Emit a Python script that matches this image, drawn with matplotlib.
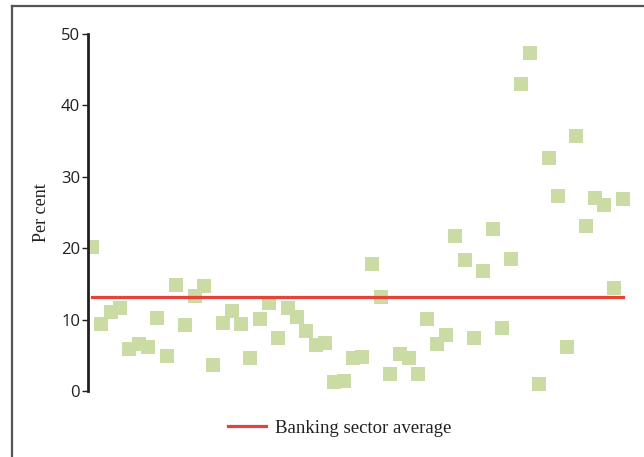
import matplotlib
matplotlib.use("Agg")
import matplotlib.pyplot as plt
from matplotlib.lines import Line2D

values = [20.2, 9.4, 11.1, 11.6, 5.9, 6.6, 6.2, 10.2, 4.9, 14.9,
          9.2, 13.3, 14.7, 3.6, 9.5, 11.2, 9.4, 4.6, 10.1, 12.3,
          7.4, 11.6, 10.4, 8.4, 6.4, 6.7, 1.3, 1.4, 4.6, 4.7,
          17.8, 13.2, 2.4, 5.2, 4.6, 2.4, 10.1, 6.6, 7.8, 21.7,
          18.3, 7.4, 16.8, 22.7, 8.8, 18.5, 43.0, 47.3, 1.0, 32.6,
          27.3, 6.2, 35.7, 23.1, 27.0, 26.0, 14.4, 26.9]
sector_average = 13.1
yticks = [0, 10, 20, 30, 40, 50]
legend_label = "Banking sector average"
ylabel = "Per cent"

W, H = 644, 457
fig = plt.figure(figsize=(W / 100, H / 100), dpi=100)
ax = fig.add_axes([87.7 / W, 1 - 391 / H, (630 - 87.7) / W, (391 - 34) / H])

x = list(range(len(values)))
ax.plot(x, values, linestyle="none", marker="s", markersize=9.6,
        markerfacecolor="#cbdba4", markeredgewidth=0, zorder=2)
ax.plot([x[0], x[-1] + 0.05], [sector_average, sector_average],
        color="#e8413a", linewidth=2.3, zorder=3, label=legend_label)

ax.set_ylim(0, 50)
ax.set_xlim(-0.48, len(values) - 1 + 0.75)
ax.set_yticks(yticks)
ax.set_xticks([])
for s in ["top", "right", "bottom"]:
    ax.spines[s].set_visible(False)
ax.spines["left"].set_linewidth(2.0)
ax.spines["left"].set_color("#231f20")
ax.tick_params(axis="y", length=4, width=1, color="#231f20", pad=1.5,
               labelsize=12, labelcolor="#231f20")
for lab in ax.get_yticklabels():
    lab.set_family(["Open Sans", "DejaVu Sans"])
ax.set_ylabel(ylabel, family=["Liberation Serif", "DejaVu Serif"],
              fontsize=13, color="#231f20", labelpad=8)

leg = fig.legend(loc="center", bbox_to_anchor=(340 / W, 1 - 428 / H),
                 frameon=False, handlelength=2.0, handletextpad=0.5,
                 prop={"family": ["Liberation Serif", "DejaVu Serif"], "size": 13.5})
for t in leg.get_texts():
    t.set_color("#231f20")

# outer frame lines
fig.add_artist(Line2D([12 / W, 12 / W], [0, 1 - 6 / H], transform=fig.transFigure,
                      color="#555555", linewidth=1.6))
fig.add_artist(Line2D([12 / W, 1], [1 - 6 / H, 1 - 6 / H], transform=fig.transFigure,
                      color="#555555", linewidth=1.6))

fig.savefig("out.png", dpi=100)
